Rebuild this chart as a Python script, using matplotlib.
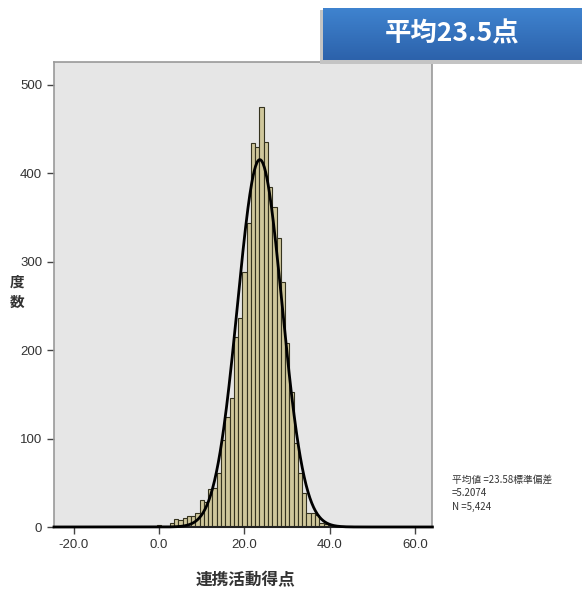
import numpy as np
import matplotlib
matplotlib.use("Agg")
import matplotlib.pyplot as plt

plt.rcParams['font.family'] = ['Liberation Sans Narrow', 'Liberation Sans', 'DejaVu Sans']
CJK = ['Noto Sans CJK JP', 'DejaVu Sans']

# histogram bins (centre = score), counts
scores = list(range(0, 46))
counts = [2, 0, 0, 5, 9, 8, 10, 12, 12, 16,
          31, 28, 43, 44, 61, 98, 124, 146, 215, 236,
          288, 344, 434, 430, 475, 436, 385, 362, 327, 277,
          208, 153, 95, 61, 38, 16, 16, 14, 5, 3,
          2, 1, 1, 1, 0, 1]

mean_val = 23.58
sd_val = 5.2074
n_val = 5424

xticks = [-20, 0, 20, 40, 60]
yticks = [0, 100, 200, 300, 400, 500]

fig = plt.figure(figsize=(5.82, 5.96), dpi=100)
ax = fig.add_axes([54 / 582, 69 / 596, 378 / 582, 465 / 596])
ax.set_facecolor('#e6e6e6')

ax.bar(scores, counts, width=1.0, color='#cfc79b', edgecolor='#35331f', linewidth=0.8, zorder=2)

xs = np.linspace(-24.6, 64, 600)
ys = n_val * 1.0 / (sd_val * np.sqrt(2 * np.pi)) * np.exp(-(xs - mean_val) ** 2 / (2 * sd_val ** 2))
ax.plot(xs, ys, color='black', lw=2.0, zorder=3, clip_on=False)

ax.set_xlim(-24.6, 63.9)
ax.set_ylim(0, 526)
ax.set_xticks(xticks)
ax.set_xticklabels([f'{v:.1f}' for v in xticks])
ax.set_yticks(yticks)
ax.tick_params(axis='both', direction='out', length=5, width=1, colors='#444444',
               labelsize=9.5, labelcolor='#333333')
for s in ['left', 'top', 'right']:
    ax.spines[s].set_color('#999999')
    ax.spines[s].set_linewidth(1.2)
ax.spines['bottom'].set_color('#222222')
ax.spines['bottom'].set_linewidth(1.5)

fig.text(17 / 582, 1 - 292 / 596, '度\n数', family=CJK, fontsize=10.5, fontweight='bold',
         color='#333333', ha='center', va='center', linespacing=1.3)
fig.text(245 / 582, 1 - 580 / 596, '連携活動得点', family=CJK, fontsize=12, fontweight='bold',
         color='#333333', ha='center', va='center')

fig.text(452 / 582, 1 - 493 / 596, '平均値 =23.58標準偏差\n=5.2074\nN =5,424',
         family=CJK, fontsize=7, color='#333333', ha='left', va='center', linespacing=1.45)

# title box with a soft shadow
sax = fig.add_axes([320 / 582, 1 - 64 / 596, 262 / 582, 54 / 596], zorder=4)
sax.set_facecolor('#c4c4c4')
sax.set_axis_off()
sax.add_patch(plt.Rectangle((0, 0), 1, 1, color='#c4c4c4', transform=sax.transAxes))
bax = fig.add_axes([323 / 582, 1 - 60 / 596, 259 / 582, 52 / 596], zorder=5)
grad = np.linspace(0, 1, 64).reshape(-1, 1)
c_top = np.array([0x3f, 0x83, 0xcf]) / 255
c_bot = np.array([0x2c, 0x62, 0xab]) / 255
img = c_top + (c_bot - c_top) * grad[:, :, None]
bax.imshow(img, aspect='auto', extent=[0, 1, 0, 1])
bax.set_axis_off()
bax.text(0.5, 0.5, '平均23.5点', family=CJK, fontsize=19, fontweight='bold', color='white',
         ha='center', va='center', transform=bax.transAxes)

fig.savefig('out.png', dpi=100)
